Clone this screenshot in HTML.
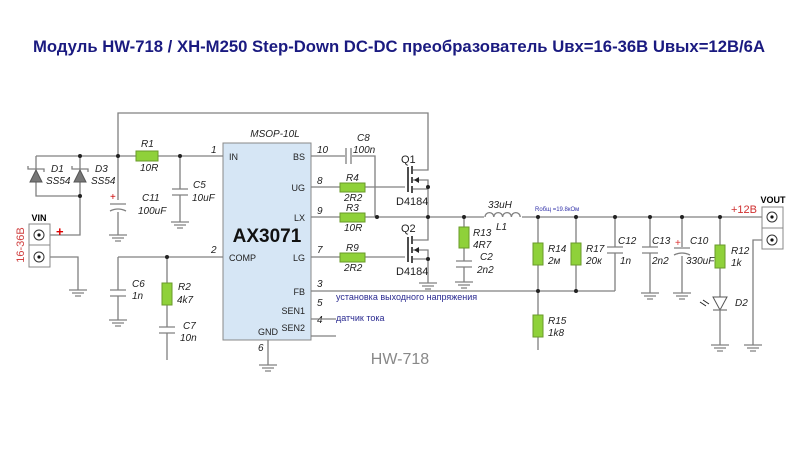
<!DOCTYPE html>
<html><head><meta charset="utf-8"><style>
body{margin:0;background:#fff}
svg{display:block}
text{font-family:"Liberation Sans",sans-serif}
.l{stroke:#808080;stroke-width:1.3;fill:none}
.r{fill:#8fd13a;stroke:#6a9a2a;stroke-width:1}
.it{font-style:italic;font-size:10px;fill:#222}
.pn{font-size:9px;fill:#222}
.d{fill:#222}
</style></head><body>
<svg width="800" height="449" viewBox="0 0 800 449">
<defs>
<g id="gnd"><path class="l" d="M-9 0H9M-6 3H6M-3 6H3"/></g>
</defs>
<text x="399" y="52" text-anchor="middle" font-size="17" font-weight="bold" fill="#1a1a80" textLength="732" lengthAdjust="spacingAndGlyphs">Модуль HW-718 / XH-M250 Step-Down DC-DC преобразователь Uвх=16-36В Uвых=12В/6А</text>

<!-- chip -->
<rect x="223" y="143" width="88" height="197" fill="#d6e6f5" stroke="#888"/>
<text x="275" y="137" class="it" text-anchor="middle">MSOP-10L</text>
<text x="267" y="242" text-anchor="middle" font-size="19" font-weight="bold" fill="#111">AX3071</text>
<text x="229" y="160" class="pn">IN</text>
<text x="229" y="261" class="pn">COMP</text>
<text x="305" y="160" class="pn" text-anchor="end">BS</text>
<text x="305" y="191" class="pn" text-anchor="end">UG</text>
<text x="305" y="221" class="pn" text-anchor="end">LX</text>
<text x="305" y="261" class="pn" text-anchor="end">LG</text>
<text x="305" y="295" class="pn" text-anchor="end">FB</text>
<text x="305" y="314" class="pn" text-anchor="end">SEN1</text>
<text x="305" y="331" class="pn" text-anchor="end">SEN2</text>
<text x="268" y="335" class="pn" text-anchor="middle">GND</text>
<g class="it">
<text x="211" y="153">1</text><text x="211" y="253">2</text>
<text x="317" y="153">10</text><text x="317" y="184">8</text><text x="317" y="214">9</text>
<text x="317" y="253">7</text><text x="317" y="287">3</text><text x="317" y="306">5</text>
<text x="317" y="323">4</text><text x="258" y="351">6</text>
</g>

<!-- wires -->
<path class="l" d="M118 156V113H428V170H413M36 156H223M36 156V196H80M80 156V235H50M118 156V235M180 156V222M50 257H78V290M118 257H223M118 257V320M167 257V360M268 340V365"/>
<path class="l" d="M311 156H345M352 156H375V217M311 187H405M311 217H510M311 257H405M413 180H428V217M413 189H428M413 240H428V217M413 250H428V283M413 259H428M464 217V282"/>
<path class="l" d="M520 217H762M538 217V350M576 217V291M615 217V291M311 291H615M650 217V293M682 217V293M720 217V345M762 240H753V345M311 319H336M311 336H336"/>
<!-- diodes -->
<g fill="#777" stroke="#555"><path d="M30 182H42L36 170Z"/><path d="M74 182H86L80 170Z"/></g>
<path class="l" d="M28 166V169H44V172M72 166V169H88V172"/>
<text x="51" y="172" class="it">D1</text><text x="46" y="184" class="it">SS54</text>
<text x="95" y="172" class="it">D3</text><text x="91" y="184" class="it">SS54</text>
<!-- R1 -->
<rect class="r" x="136" y="151" width="22" height="10"/>
<text x="141" y="147" class="it">R1</text><text x="140" y="171" class="it">10R</text>
<!-- C11 -->
<rect x="108" y="200" width="20" height="12" fill="#fff"/>
<path class="l" d="M110 204H126M110 211Q118 207 126 211"/>
<text x="110" y="200" fill="#c00" font-size="10">+</text>
<text x="142" y="201" class="it">C11</text><text x="138" y="214" class="it">100uF</text>
<use href="#gnd" x="118" y="235"/>
<!-- C5 -->
<rect x="170" y="189" width="20" height="6" fill="#fff"/>
<path class="l" d="M172 189H188M172 195H188"/>
<text x="193" y="188" class="it">C5</text><text x="192" y="201" class="it">10uF</text>
<use href="#gnd" x="180" y="222"/>
<!-- VIN -->
<rect x="29" y="224" width="21" height="43" fill="#fff" stroke="#888"/>
<path d="M29 245H50" stroke="#888"/>
<circle cx="39" cy="235" r="5" fill="#fff" stroke="#333"/><circle cx="39" cy="235" r="1.6" fill="#111"/>
<circle cx="39" cy="257" r="5" fill="#fff" stroke="#333"/><circle cx="39" cy="257" r="1.6" fill="#111"/>
<text x="39" y="221" text-anchor="middle" font-size="9" font-weight="bold">VIN</text>
<text x="56" y="236" fill="#d00" font-size="13" font-weight="bold">+</text>
<text transform="translate(24 245) rotate(-90)" text-anchor="middle" fill="#d04040" font-size="11">16-36В</text>
<use href="#gnd" x="78" y="290"/>
<!-- C6 R2 C7 -->
<rect x="108" y="290" width="20" height="6" fill="#fff"/><path class="l" d="M110 290H126M110 296H126"/>
<text x="132" y="287" class="it">C6</text><text x="132" y="299" class="it">1n</text>
<use href="#gnd" x="118" y="320"/>
<rect class="r" x="162" y="283" width="10" height="22"/>
<text x="178" y="290" class="it">R2</text><text x="177" y="303" class="it">4k7</text>
<rect x="157" y="327" width="20" height="6" fill="#fff"/><path class="l" d="M159 327H175M159 333H175"/>
<text x="183" y="329" class="it">C7</text><text x="180" y="341" class="it">10n</text>
<use href="#gnd" x="268" y="365"/>
<!-- C8 -->
<rect x="345" y="146" width="7" height="20" fill="#fff"/><path class="l" d="M346 148V164M351 148V164"/>
<text x="357" y="141" class="it">C8</text><text x="353" y="153" class="it">100n</text>
<!-- R4 R3 R9 -->
<rect class="r" x="340" y="183" width="25" height="9"/>
<text x="346" y="181" class="it">R4</text><text x="344" y="201" class="it">2R2</text>
<rect class="r" x="340" y="213" width="25" height="9"/>
<text x="346" y="211" class="it">R3</text><text x="344" y="231" class="it">10R</text>
<rect class="r" x="340" y="253" width="25" height="9"/>
<text x="346" y="251" class="it">R9</text><text x="344" y="271" class="it">2R2</text>
<!-- Q1 Q2 -->
<path stroke="#222" stroke-width="1.6" d="M408 167V192M412 166V174M412 177V183M412 186V193M408 237V262M412 236V244M412 247V253M412 256V263"/>
<path d="M414 180L419 177V183Z M414 250L419 247V253Z" fill="#222"/>
<text x="401" y="163" font-size="11" fill="#222">Q1</text><text x="396" y="205" font-size="11" fill="#222">D4184</text>
<text x="401" y="232" font-size="11" fill="#222">Q2</text><text x="396" y="275" font-size="11" fill="#222">D4184</text>
<use href="#gnd" x="428" y="283"/>
<!-- R13 C2 -->
<rect class="r" x="459" y="227" width="10" height="21"/>
<text x="473" y="236" class="it">R13</text><text x="473" y="248" class="it">4R7</text>
<rect x="454" y="261" width="20" height="6" fill="#fff"/><path class="l" d="M456 261H472M456 267H472"/>
<text x="480" y="260" class="it">C2</text><text x="477" y="273" class="it">2n2</text>
<use href="#gnd" x="464" y="282"/>
<!-- L1 -->
<rect x="484" y="214" width="38" height="6" fill="#fff"/>
<path class="l" d="M485 217a4.4 4.4 0 0 1 8.8 0a4.4 4.4 0 0 1 8.8 0a4.4 4.4 0 0 1 8.8 0a4.4 4.4 0 0 1 8.8 0"/>
<text x="488" y="208" class="it">33uH</text><text x="496" y="230" class="it">L1</text>
<text x="535" y="211" font-size="6" fill="#33a">Rобщ =19.8кОм</text>
<text x="731" y="213" fill="#d03030" font-size="11">+12В</text>
<!-- R14 R17 R15 -->
<rect class="r" x="533" y="243" width="10" height="22"/>
<text x="548" y="252" class="it">R14</text><text x="548" y="264" class="it">2м</text>
<rect class="r" x="571" y="243" width="10" height="22"/>
<text x="586" y="252" class="it">R17</text><text x="586" y="264" class="it">20к</text>
<rect class="r" x="533" y="315" width="10" height="22"/>
<text x="548" y="324" class="it">R15</text><text x="548" y="336" class="it">1k8</text>
<!-- C12 C13 C10 -->
<rect x="605" y="247" width="20" height="6" fill="#fff"/><path class="l" d="M607 247H623M607 253H623"/>
<text x="618" y="244" class="it">C12</text><text x="620" y="264" class="it">1n</text>
<rect x="640" y="247" width="20" height="6" fill="#fff"/><path class="l" d="M642 247H658M642 253H658"/>
<text x="652" y="244" class="it">C13</text><text x="652" y="264" class="it">2n2</text>
<use href="#gnd" x="650" y="293"/>
<rect x="672" y="247" width="20" height="9" fill="#fff"/><path class="l" d="M674 248H690M674 255Q682 251 690 255"/>
<text x="675" y="246" fill="#d33" font-size="10">+</text>
<text x="690" y="244" class="it">C10</text><text x="686" y="264" class="it">330uF</text>
<use href="#gnd" x="682" y="293"/>
<!-- R12 D2 -->
<rect class="r" x="715" y="245" width="10" height="23"/>
<text x="731" y="254" class="it">R12</text><text x="731" y="266" class="it">1k</text>
<path d="M713 297H727L720 310Z" fill="#fff" stroke="#555"/><path class="l" d="M713 310H727"/>
<path d="M700 302l6 4M703 300l6 4" stroke="#222" stroke-width="1"/>
<text x="735" y="306" class="it">D2</text>
<use href="#gnd" x="720" y="345"/><use href="#gnd" x="753" y="345"/>
<!-- VOUT -->
<rect x="762" y="207" width="21" height="42" fill="#fff" stroke="#888"/><path d="M762 228H783" stroke="#888"/>
<circle cx="772" cy="217" r="5" fill="#fff" stroke="#333"/><circle cx="772" cy="217" r="1.6" fill="#111"/>
<circle cx="772" cy="240" r="5" fill="#fff" stroke="#333"/><circle cx="772" cy="240" r="1.6" fill="#111"/>
<text x="773" y="203" text-anchor="middle" font-size="9" font-weight="bold">VOUT</text>
<!-- texts -->
<text x="336" y="300" font-size="9" fill="#2a2a90">установка выходного напряжения</text>
<text x="336" y="321" font-size="9" fill="#2a2a90">датчик тока</text>
<text x="400" y="364" text-anchor="middle" font-size="16" fill="#888">HW-718</text>
<!-- dots -->
<g class="d">
<circle cx="80" cy="156" r="2"/><circle cx="118" cy="156" r="2"/><circle cx="180" cy="156" r="2"/>
<circle cx="80" cy="196" r="2"/><circle cx="167" cy="257" r="2"/><circle cx="377" cy="217" r="2"/>
<circle cx="428" cy="187" r="2"/><circle cx="428" cy="217" r="2"/><circle cx="428" cy="259" r="2"/>
<circle cx="464" cy="217" r="2"/><circle cx="538" cy="217" r="2"/><circle cx="576" cy="217" r="2"/>
<circle cx="615" cy="217" r="2"/><circle cx="650" cy="217" r="2"/><circle cx="682" cy="217" r="2"/>
<circle cx="720" cy="217" r="2"/><circle cx="538" cy="291" r="2"/><circle cx="576" cy="291" r="2"/>
</g>
</svg>
</body></html>
